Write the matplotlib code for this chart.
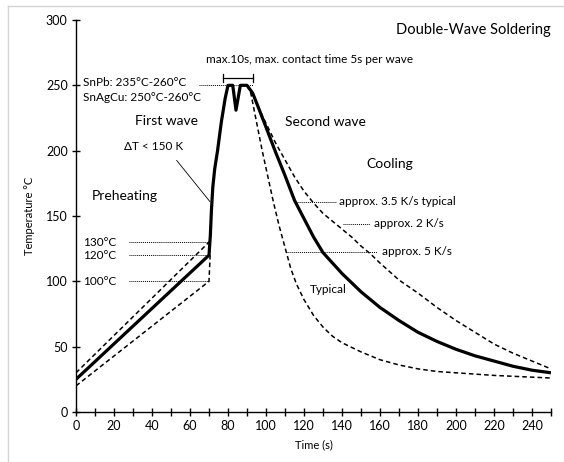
import matplotlib
matplotlib.use("Agg")
import matplotlib.pyplot as plt
from matplotlib.lines import Line2D

plt.rcParams['font.family'] = ['Lato', 'DejaVu Sans']

# ---- data ----
# main (solid) profile
solid_t = [0, 70, 70.7, 71.3, 72, 73, 74.5, 76.5, 78.5, 80, 82.5, 84.2, 86.5, 90,
           93, 96, 100, 105, 110, 115, 120, 125, 130, 135, 140, 145, 150, 155, 160,
           170, 180, 190, 200, 210, 220, 230, 240, 250]
solid_T = [25, 120, 135, 155, 172, 186, 200, 222, 240, 250, 250, 231, 250, 250,
           244, 233, 218, 199, 181, 162, 148, 134, 122, 114, 106, 99, 92, 86, 80,
           70, 61, 54, 48, 43, 39, 35, 32, 30]

# preheat limits (dashed)
pre_up_t = [0, 70, 70.9]
pre_up_T = [30, 130, 132]
pre_lo_t = [0, 70, 70.3, 70.6]
pre_lo_T = [20, 100, 110, 120]

# cooling limits (dashed)
cool_slow_t = [90, 93, 97, 100, 105, 110, 115, 120, 125, 130, 135, 140, 145, 150,
               155, 160, 170, 180, 190, 200, 210, 220, 230, 240, 250]
cool_slow_T = [250, 243, 230, 221, 206, 193, 180, 169, 160, 152, 146, 140, 134, 127,
               121, 114, 101, 91, 80, 70, 61, 52, 45, 39, 33]
cool_fast_t = [90, 92, 95, 98, 101, 104, 107, 110, 113, 116, 120, 125, 130, 135,
               140, 150, 160, 170, 180, 190, 200, 220, 250]
cool_fast_T = [250, 244, 222, 200, 180, 160, 142, 126, 110, 98, 86, 74, 65, 58,
               53, 46, 40, 36, 33, 31, 30, 28, 26]

preheat_levels = [130, 120, 100]
preheat_labels = ["130°C", "120°C", "100°C"]

x_ticks = list(range(0, 251, 10))
x_labels = [str(v) if v % 20 == 0 else "" for v in x_ticks]
y_ticks = list(range(0, 301, 50))

# ---- figure ----
fig = plt.figure(figsize=(5.64, 4.62), dpi=100)
ax = fig.add_axes([76/564, 50/462, 475/564, 392/462])

# frame lines (light grey border)
fig.add_artist(Line2D([8/564, 8/564], [0, 1 - 6/462], color="#d4d4d4", lw=1.0,
                      transform=fig.transFigure))
fig.add_artist(Line2D([8/564, 1], [1 - 6/462, 1 - 6/462], color="#d4d4d4", lw=1.0,
                      transform=fig.transFigure))

dash = (0, (3, 2))
ax.plot(pre_up_t, pre_up_T, color="black", lw=1.1, linestyle=dash)
ax.plot(pre_lo_t, pre_lo_T, color="black", lw=1.1, linestyle=dash)
ax.plot(cool_slow_t, cool_slow_T, color="black", lw=1.1, linestyle=dash)
ax.plot(cool_fast_t, cool_fast_T, color="black", lw=1.1, linestyle=dash)
ax.plot(solid_t, solid_T, color="black", lw=2.3, solid_joinstyle="round",
        solid_capstyle="butt")

dot = (0, (1, 1))
fs_small = 8.5
# preheat level labels
for lev, lab in zip(preheat_levels, preheat_labels):
    ax.text(3.5, lev, lab, fontsize=fs_small, va="center", ha="left")
    ax.plot([28, 70], [lev, lev], color="black", lw=0.7, linestyle=dot)

# peak level
ax.text(3.5, 252.5, "SnPb: 235°C-260°C", fontsize=fs_small, va="center", ha="left")
ax.text(3.5, 241, "SnAgCu: 250°C-260°C", fontsize=fs_small, va="center", ha="left")
ax.plot([64.5, 93], [250.5, 250.5], color="black", lw=0.7, linestyle=dot)

# max 10s bracket
ax.plot([77.5, 93.3], [255.6, 255.6], color="black", lw=0.9)
ax.plot([77.5, 77.5], [252.5, 259], color="black", lw=0.9)
ax.plot([93.3, 93.3], [252.5, 259], color="black", lw=0.9)
ax.text(68.5, 269.5, "max.10s, max. contact time 5s per wave", fontsize=fs_small,
        va="center", ha="left")

# region labels
ax.text(47.5, 222.5, "First wave", fontsize=10, va="center", ha="center")
ax.text(110, 222, "Second wave", fontsize=10, va="center", ha="left")
ax.text(153, 190, "Cooling", fontsize=10, va="center", ha="left")
ax.text(8.2, 165, "Preheating", fontsize=10, va="center", ha="left")
ax.text(25.4, 203, "ΔT < 150 K", fontsize=fs_small, va="center", ha="left")
ax.plot([53, 70.5], [192.5, 161], color="black", lw=0.6)
ax.text(123, 94, "Typical", fontsize=fs_small, va="center", ha="left")
ax.text(250, 292, "Double-Wave Soldering", fontsize=10.5, va="center", ha="right")

# cooling rate labels
ax.plot([115.8, 136.8], [161, 161], color="black", lw=0.7, linestyle=dot)
ax.text(138.6, 161, "approx. 3.5 K/s typical", fontsize=fs_small, va="center", ha="left")
ax.plot([140.5, 154.7], [144, 144], color="black", lw=0.7, linestyle=dot)
ax.text(157, 144, "approx. 2 K/s", fontsize=fs_small, va="center", ha="left")
ax.plot([110.5, 158.2], [122.5, 122.5], color="black", lw=0.7, linestyle=dot)
ax.text(160.9, 122.5, "approx. 5 K/s", fontsize=fs_small, va="center", ha="left")

# axes styling
ax.set_xlim(0, 250)
ax.set_ylim(0, 300)
for s in ["top", "right"]:
    ax.spines[s].set_visible(False)
for s in ["left", "bottom"]:
    ax.spines[s].set_linewidth(1.0)
ax.set_xticks(x_ticks)
ax.set_xticklabels(x_labels)
ax.set_yticks(y_ticks)
ax.tick_params(direction="inout", length=6, width=1.0, labelsize=9, pad=3)
ax.set_xlabel("Time (s)", fontsize=8, labelpad=5)
ax.set_ylabel("Temperature °C", fontsize=8, labelpad=8)
for sp in ax.spines.values():
    sp.set_clip_on(False)

fig.savefig("out.png", dpi=100)
